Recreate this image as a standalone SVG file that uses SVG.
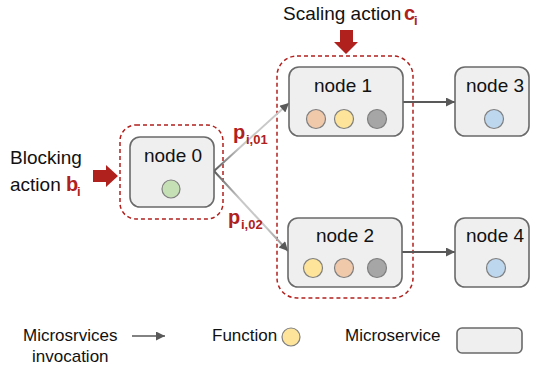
<svg xmlns="http://www.w3.org/2000/svg" width="535" height="366" viewBox="0 0 535 366">
  <defs>
    <style>
      text { font-family: "Liberation Sans", Arial, sans-serif; fill: #111; }
      .lbl { font-size: 19px; }
      .node-lbl { font-size: 19px; text-anchor: middle; }
      .leg { font-size: 17px; }
      .red { fill: #b0211e; font-weight: bold; }
      .sym { font-size: 20px; }
      .sub { font-size: 13px; }
      .box { fill: #efefef; stroke: #6a6a6a; stroke-width: 1.6; }
      .fn { stroke: #7f7f7f; stroke-width: 1.2; }
      .group { fill: none; stroke: #b0211e; stroke-width: 1.5; stroke-dasharray: 4 3; }
      .call { fill: none; stroke: #595959; stroke-width: 2; marker-end: url(#head); }
      .action { fill: #b0211e; }
    </style>
    <marker id="head" viewBox="0 0 10 10" refX="10" refY="5" markerUnits="userSpaceOnUse" markerWidth="11" markerHeight="9" orient="auto">
      <path d="M0,0 L10,5 L0,10 z" fill="#595959"/>
    </marker>
    <linearGradient id="fadeUp" gradientUnits="userSpaceOnUse" x1="214" y1="171" x2="289" y2="103">
      <stop offset="0" stop-color="#595959"/>
      <stop offset="0.35" stop-color="#c8c8c8"/>
      <stop offset="1" stop-color="#c8c8c8"/>
    </linearGradient>
    <linearGradient id="fadeDown" gradientUnits="userSpaceOnUse" x1="214" y1="171" x2="288" y2="251">
      <stop offset="0" stop-color="#595959"/>
      <stop offset="0.35" stop-color="#c8c8c8"/>
      <stop offset="0.7" stop-color="#c8c8c8"/>
      <stop offset="1" stop-color="#8a8a8a"/>
    </linearGradient>
  </defs>

  <!-- action annotations -->
  <g id="blocking-action">
    <text class="lbl" x="10" y="164">Blocking</text>
    <text class="lbl" x="10" y="191">action <tspan class="red sym">b</tspan></text>
    <text class="red sub" x="77" y="196">i</text>
    <path class="action" d="M93,170 H106 V165 L118,176 L106,187 V182 H93 z"/>
    <rect class="group" x="120" y="125" width="103" height="94" rx="16"/>
  </g>

  <g id="scaling-action">
    <text class="lbl" x="283" y="20">Scaling action</text>
    <text class="red sym" x="404" y="20">c</text>
    <text class="red sub" x="414" y="25">i</text>
    <path class="action" d="M340,30 H353 V42 H358 L346,54 L334,42 H340 z"/>
    <rect class="group" x="277" y="56" width="136" height="242" rx="20"/>
  </g>

  <!-- connectors -->
  <g id="connectors">
    <path class="call" d="M214,171 L289,103" style="stroke: url(#fadeUp)"/>
    <path class="call" d="M214,171 L288,251" style="stroke: url(#fadeDown)"/>
    <path class="call" d="M403,102 L455,102"/>
    <path class="call" d="M402,252 L455,252"/>
    <text class="red sym" x="233" y="139">p</text>
    <text class="red sub" x="246" y="144">i,01</text>
    <text class="red sym" x="228" y="224">p</text>
    <text class="red sub" x="241" y="229">i,02</text>
  </g>

  <!-- microservices -->
  <g id="node0">
    <rect class="box" x="130" y="137" width="84" height="70" rx="10"/>
    <text class="node-lbl" x="173" y="162">node 0</text>
    <circle class="fn" cx="171" cy="189" r="9" fill="#c5e0b4"/>
  </g>

  <g id="node1">
    <rect class="box" x="289" y="67" width="114" height="69" rx="10"/>
    <text class="node-lbl" x="343" y="92">node 1</text>
    <circle class="fn" cx="316" cy="119" r="9.5" fill="#f0c8aa"/>
    <circle class="fn" cx="344" cy="119" r="9.5" fill="#fde49a"/>
    <circle class="fn" cx="377" cy="119" r="9.5" fill="#a6a6a6"/>
  </g>

  <g id="node2">
    <rect class="box" x="288" y="218" width="114" height="69" rx="10"/>
    <text class="node-lbl" x="345" y="242">node 2</text>
    <circle class="fn" cx="313" cy="268" r="9.5" fill="#fde49a"/>
    <circle class="fn" cx="344" cy="268" r="9.5" fill="#f0c8aa"/>
    <circle class="fn" cx="377" cy="268" r="9.5" fill="#a6a6a6"/>
  </g>

  <g id="node3">
    <rect class="box" x="455" y="67" width="74" height="69" rx="10"/>
    <text class="node-lbl" x="495" y="92">node 3</text>
    <circle class="fn" cx="494" cy="119" r="9.5" fill="#bdd7ee"/>
  </g>

  <g id="node4">
    <rect class="box" x="455" y="218" width="74" height="69" rx="10"/>
    <text class="node-lbl" x="495" y="242">node 4</text>
    <circle class="fn" cx="496" cy="268" r="9.5" fill="#bdd7ee"/>
  </g>

  <!-- legend -->
  <g id="legend">
    <text class="leg" x="23" y="341">Microsrvices</text>
    <text class="leg" x="32" y="362">invocation</text>
    <path d="M132,336 L165,336" fill="none" stroke="#595959" stroke-width="1.5" marker-end="url(#head)"/>
    <text class="leg" x="212" y="341">Function</text>
    <circle class="fn" cx="291" cy="337" r="9" fill="#fde49a"/>
    <text class="leg" x="345" y="341">Microservice</text>
    <rect class="box" x="457" y="328" width="65" height="25" rx="5"/>
  </g>
</svg>
